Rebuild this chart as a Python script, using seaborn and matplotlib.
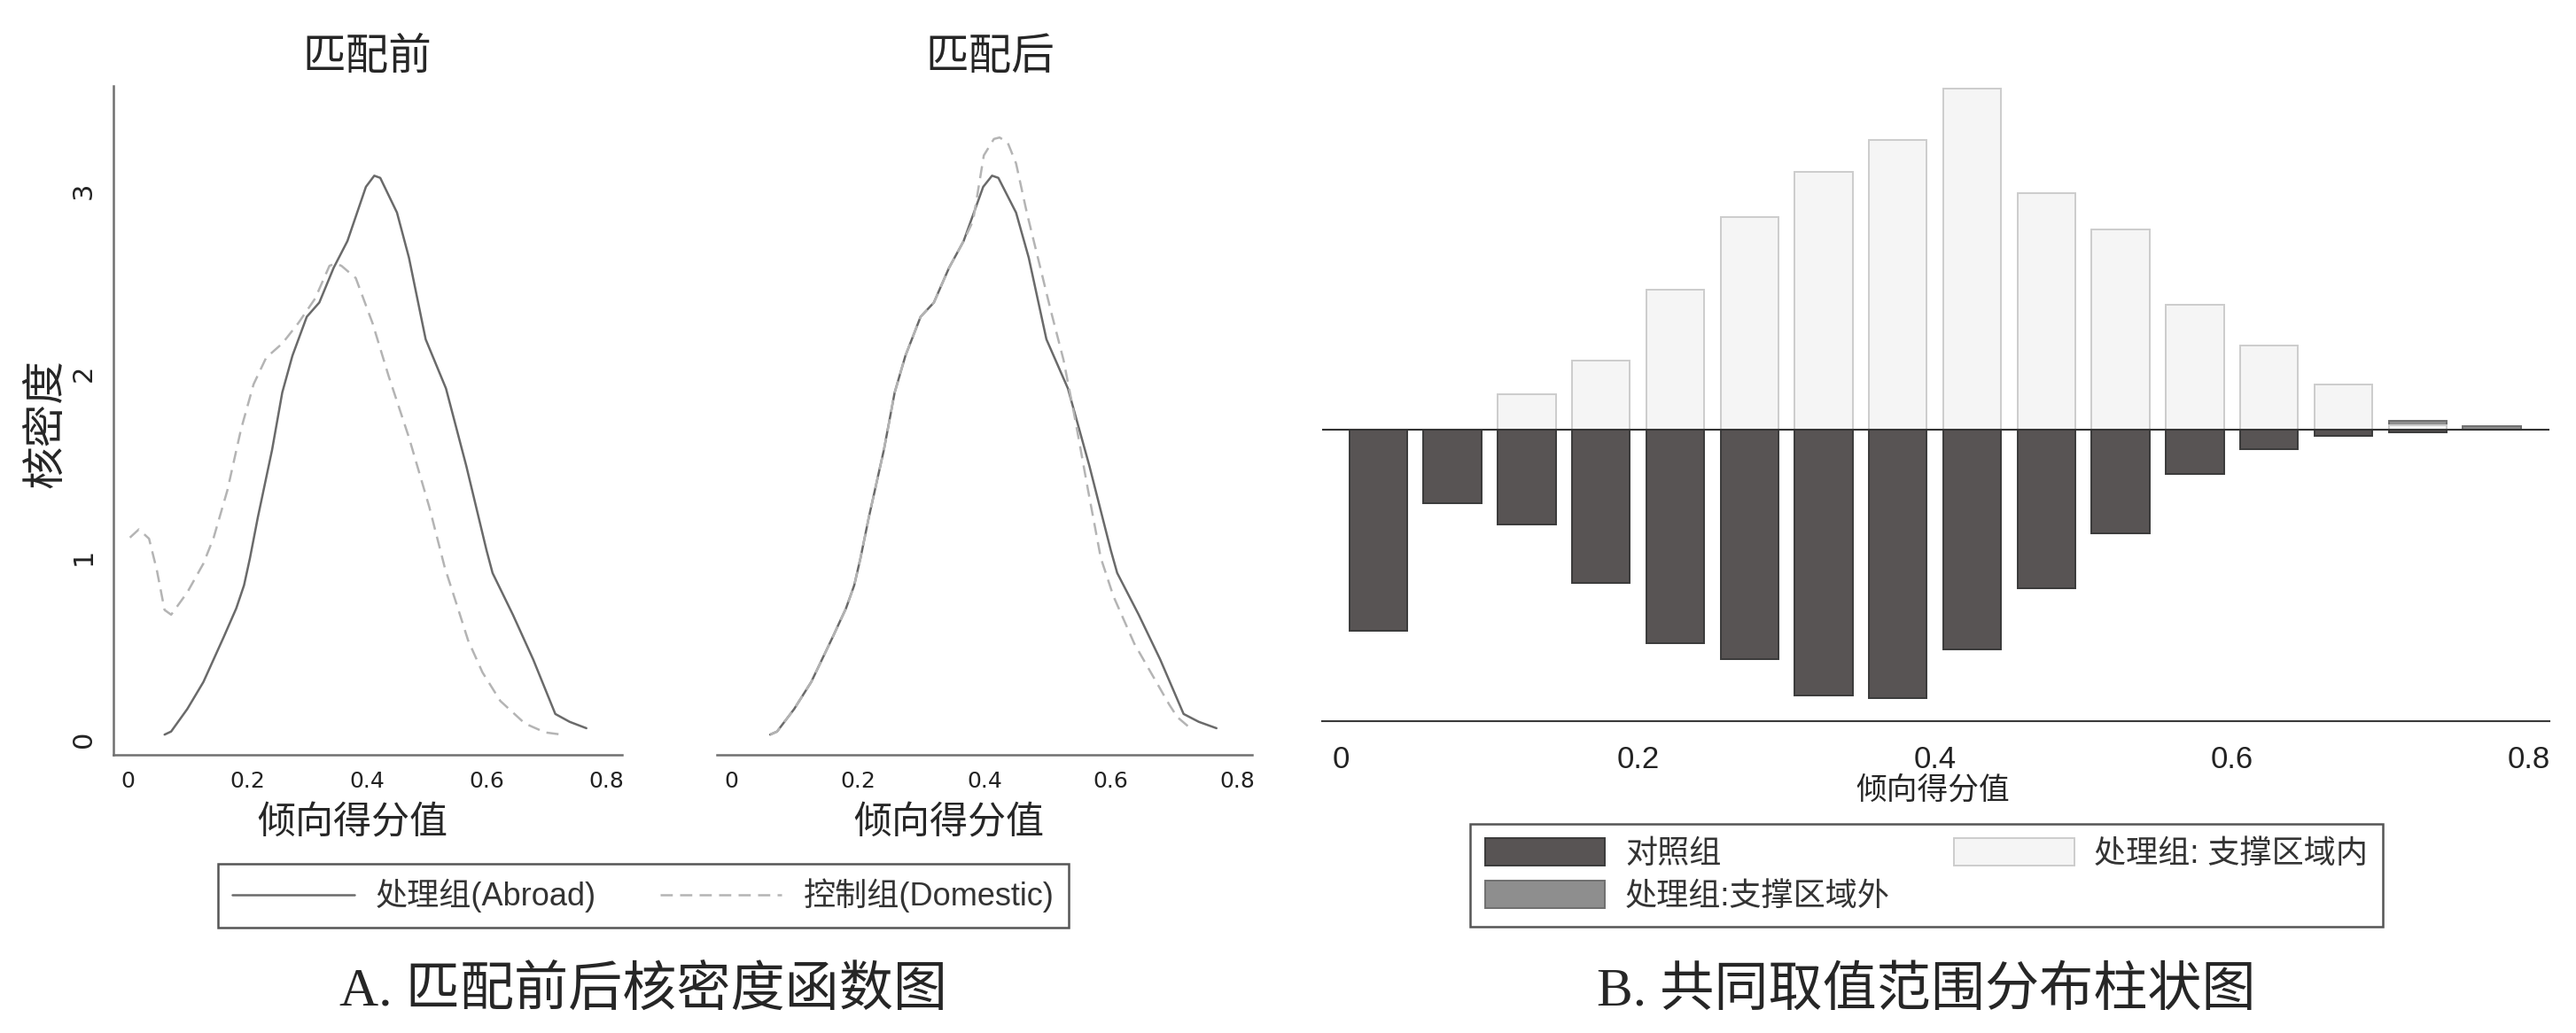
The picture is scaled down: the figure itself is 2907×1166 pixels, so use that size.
import matplotlib
matplotlib.use('Agg')
import matplotlib.pyplot as plt
import seaborn as sns
from matplotlib.lines import Line2D
from matplotlib.patches import Patch

# --- panel A: kernel density curves ---
treated_x = [0.061, 0.072, 0.099, 0.126, 0.160, 0.181, 0.194, 0.204, 0.217, 0.241,
             0.258, 0.275, 0.299, 0.320, 0.344, 0.367, 0.388, 0.398, 0.412, 0.422,
             0.450, 0.470, 0.498, 0.532, 0.566, 0.600, 0.610, 0.644, 0.678, 0.715,
             0.739, 0.767]
treated_y = [0.033, 0.050, 0.173, 0.321, 0.567, 0.724, 0.850, 1.000, 1.220, 1.592,
             1.905, 2.106, 2.319, 2.397, 2.587, 2.733, 2.934, 3.030, 3.091, 3.079,
             2.889, 2.643, 2.196, 1.927, 1.503, 1.040, 0.917, 0.689, 0.444, 0.146,
             0.103, 0.068]

ctrl_before_x = [0.003, 0.018, 0.035, 0.048, 0.061, 0.072, 0.099, 0.126, 0.143, 0.166,
                 0.189, 0.210, 0.231, 0.258, 0.285, 0.313, 0.337, 0.347, 0.357, 0.381,
                 0.409, 0.436, 0.470, 0.504, 0.530, 0.552, 0.569, 0.593, 0.623, 0.664,
                 0.698, 0.726]
ctrl_before_y = [1.111, 1.156, 1.105, 0.934, 0.715, 0.689, 0.811, 0.969, 1.109, 1.368,
                 1.704, 1.950, 2.095, 2.173, 2.285, 2.419, 2.598, 2.610, 2.598, 2.531,
                 2.285, 1.995, 1.659, 1.279, 0.947, 0.724, 0.549, 0.374, 0.217, 0.094,
                 0.045, 0.033]

ctrl_after_x = [0.061, 0.072, 0.099, 0.126, 0.160, 0.181, 0.194, 0.204, 0.217, 0.241,
                0.258, 0.275, 0.299, 0.320, 0.344, 0.367, 0.382, 0.399, 0.415, 0.424,
                0.437, 0.450, 0.467, 0.486, 0.505, 0.525, 0.544, 0.564, 0.584, 0.604,
                0.637, 0.666, 0.692, 0.705, 0.724]
ctrl_after_y = [0.033, 0.050, 0.173, 0.321, 0.567, 0.724, 0.850, 1.000, 1.220, 1.592,
                1.905, 2.106, 2.319, 2.397, 2.587, 2.733, 2.844, 3.202, 3.292, 3.300,
                3.270, 3.158, 2.889, 2.621, 2.352, 2.084, 1.748, 1.368, 1.000, 0.790,
                0.531, 0.356, 0.199, 0.129, 0.073]

# --- panel B: common support histogram (bar heights, arbitrary units) ---
bin_mid = [0.025, 0.075, 0.125, 0.175, 0.225, 0.275, 0.325, 0.375,
           0.425, 0.475, 0.525, 0.575, 0.625, 0.675, 0.725, 0.775]
treated_on = [0, 0, 40, 78, 158, 240, 291, 327, 385, 267, 226, 141, 95, 51, 5, 0]
treated_off = [0, 0, 0, 0, 0, 0, 0, 0, 0, 0, 0, 0, 0, 0, 5, 4]
control_n = [227, 83, 107, 173, 241, 259, 300, 303, 248, 179, 117, 50, 22, 7, 2.5, 0]

xticks = [0, 0.2, 0.4, 0.6, 0.8]
xticklabels = ['0', '0.2', '0.4', '0.6', '0.8']

sns.set_style('white')
plt.rcParams['font.family'] = ['Liberation Sans', 'Noto Sans CJK SC']
plt.rcParams['axes.unicode_minus'] = False

W, H = 2907, 1166
fig = plt.figure(figsize=(W / 100, H / 100), dpi=100)


def box(l, t, r, b):
    return [l / W, 1 - b / H, (r - l) / W, (b - t) / H]


ax1 = fig.add_axes(box(127.6, 97, 701.5, 851.6))
ax2 = fig.add_axes(box(808.6, 97, 1413.3, 851.6))
ax3 = fig.add_axes(box(1492, 90, 2877, 813.6))

solid_c = '#6a6a6a'
dash_c = '#b4b4b4'
dash_ls = (0, (5.5, 3.3))
axis_c = '#707070'
line_kw = dict(lw=1.8, estimator=None, solid_joinstyle='round')

# density panels
sns.lineplot(x=treated_x, y=treated_y, ax=ax1, color=solid_c, **line_kw)
sns.lineplot(x=ctrl_before_x, y=ctrl_before_y, ax=ax1, color=dash_c,
             linestyle=dash_ls, **line_kw)
sns.lineplot(x=treated_x, y=treated_y, ax=ax2, color=solid_c, **line_kw)
sns.lineplot(x=ctrl_after_x, y=ctrl_after_y, ax=ax2, color=dash_c,
             linestyle=dash_ls, **line_kw)

ax1.set_xlim(-0.0252, 0.826)
ax2.set_xlim(-0.0238, 0.8238)
for ax in (ax1, ax2):
    ax.set_ylim(-0.0756, 3.582)
    ax.set_xticks(xticks)
    ax.set_xticklabels(xticklabels, family='DejaVu Sans')
    ax.tick_params(axis='x', length=7, width=1.3, color=axis_c, pad=6,
                   labelsize=18, labelcolor='#222222')
    ax.set_xlabel('倾向得分值', fontsize=31, va='center')
    for s in ax.spines.values():
        s.set_color(axis_c)
        s.set_linewidth(1.8)

ax1.set_yticks([0, 1, 2, 3])
ax1.set_yticklabels(['0', '1', '2', '3'], family='DejaVu Sans')
ax1.tick_params(axis='y', length=9.5, width=1.3, color=axis_c, pad=4,
                labelsize=22, labelrotation=90, labelcolor='#222222')
ax2.set_yticks([])
sns.despine(ax=ax1)
sns.despine(ax=ax2, left=True)

ax1.xaxis.set_label_coords(0.471, -0.104)
ax2.xaxis.set_label_coords(0.434, -0.104)
ax1.set_ylabel('核密度', fontsize=35, va='center', ha='center')
ax1.yaxis.set_label_coords(-0.130, 0.4956)
ax1.set_title('匹配前', fontsize=35, y=1.0424, va='center', pad=0)
ax2.set_title('匹配后', fontsize=35, x=0.51, y=1.0424, va='center', pad=0)

# histogram panel
dark_fc, dark_ec = '#585454', '#3a3a3a'
light_fc, light_ec = '#f5f5f5', '#cccccc'
off_fc, off_ec = '#8e8e8e', '#707070'
bar_kw = dict(native_scale=True, linewidth=1.4, errorbar=None, width=0.78,
              saturation=1)

# off-support part sits on top of the on-support part
off_x = [m for m, o in zip(bin_mid, treated_off) if o > 0]
off_top = [o + t for o, t in zip(treated_off, treated_on) if o > 0]
sns.barplot(x=off_x, y=off_top, ax=ax3, color=off_fc, edgecolor=off_ec, **bar_kw)
sns.barplot(x=bin_mid, y=treated_on, ax=ax3, color=light_fc, edgecolor=light_ec,
            **bar_kw)
sns.barplot(x=bin_mid, y=[-c for c in control_n], ax=ax3, color=dark_fc,
            edgecolor=dark_ec, **bar_kw)
ax3.axhline(0, color='#333333', lw=1.5, zorder=5)

ax3.set_xlim(-0.0128, 0.8138)
ax3.set_ylim(-328.6, 395)
ax3.set_xticks(xticks)
ax3.set_xticklabels(xticklabels)
ax3.set_yticks([])
ax3.tick_params(axis='x', length=10, width=1.3, color='#333333', pad=10,
                labelsize=25, labelcolor='#222222')
sns.despine(ax=ax3, left=True)
ax3.spines['bottom'].set_color('#3a3a3a')
ax3.spines['bottom'].set_linewidth(1.5)
ax3.set_xlabel('倾向得分值', fontsize=25, va='center')
ax3.xaxis.set_label_coords(0.4978, -0.108)

# legends
hA = [Line2D([0], [0], color=solid_c, lw=1.8),
      Line2D([0], [0], color=dash_c, lw=1.8, linestyle=dash_ls)]
legA = fig.legend(hA, ['处理组(Abroad)', '控制组(Domestic)'], loc='center',
                  bbox_to_anchor=(726 / W, 1 - 1011 / H), ncol=2, fontsize=26,
                  frameon=True, fancybox=False, framealpha=1, edgecolor='#555555',
                  handlelength=3.8, handletextpad=0.67, columnspacing=2.0,
                  borderpad=0.45, labelcolor='#333333')
legA.get_frame().set_linewidth(1.8)

hB = [Patch(facecolor=dark_fc, edgecolor=dark_ec, lw=1.4),
      Patch(facecolor=off_fc, edgecolor=off_ec, lw=1.4),
      Patch(facecolor=light_fc, edgecolor=light_ec, lw=1.4)]
legB = fig.legend(hB, ['对照组', '处理组:支撑区域外', '处理组: 支撑区域内'], loc='center',
                  bbox_to_anchor=(2174 / W, 1 - 988 / H), ncol=2, fontsize=26,
                  frameon=True, fancybox=False, framealpha=1, edgecolor='#555555',
                  handlelength=3.75, handleheight=0.95, handletextpad=0.63,
                  columnspacing=2.0, labelspacing=0.34, borderpad=0.45,
                  labelcolor='#333333')
legB.get_frame().set_linewidth(1.8)

# captions
cap_font = ['Liberation Serif', 'Noto Sans CJK SC']
fig.text(726 / W, 1 - 1120 / H, 'A. 匹配前后核密度函数图', ha='center', va='center',
         fontsize=44, family=cap_font)
fig.text(2174 / W, 1 - 1120 / H, 'B. 共同取值范围分布柱状图', ha='center', va='center',
         fontsize=44, family=cap_font)

fig.savefig('out.png', dpi=100)
